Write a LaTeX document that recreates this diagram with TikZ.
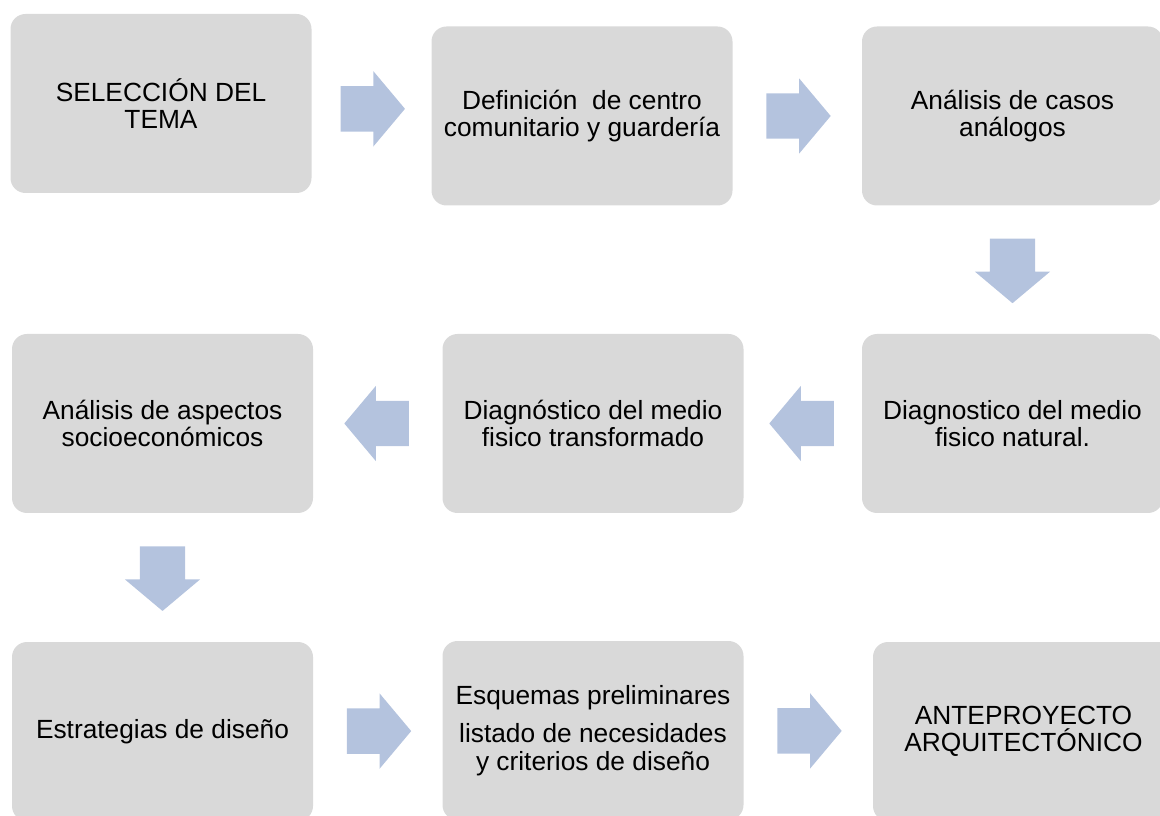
\documentclass[tikz,border=0pt]{standalone}
\usepackage{fontspec}
\setmainfont{Liberation Sans}
\usetikzlibrary{shapes.arrows,calc}

\definecolor{boxgray}{RGB}{217,217,217}
\definecolor{arrowblue}{RGB}{180,195,222}

\begin{document}
\begin{tikzpicture}[x=1pt, y=1pt,
    stepbox/.style={fill=boxgray, rounded corners=15pt, minimum width=301pt, minimum height=179pt,
                    align=center, inner sep=0pt, font=\fontsize{26.3}{27.5}\selectfont},
    blockarrow/.style={single arrow, fill=arrowblue, inner sep=22.5pt, outer sep=0pt,
                       single arrow head extend=15pt, single arrow tip angle=100,
                       minimum height=61pt, minimum width=0pt, anchor=tail}]
      \useasboundingbox (0,0) rectangle (1160,815);
      %%% first row
      \node[stepbox] (s1) at (161,711.5)   {SELECCIÓN DEL\\TEMA};
      \node[stepbox] (s2) at (582,699)     {Definición\ \ de centro\\comunitario y guardería};
      \node[stepbox] (s3) at (1012.5,699)  {Análisis de casos\\análogos};
      %%% second row
      \node[stepbox] (s4) at (162.5,391.5) {Análisis de aspectos\\socioeconómicos};
      \node[stepbox] (s5) at (593,391.5)   {Diagnóstico del medio\\fisico transformado};
      \node[stepbox] (s6) at (1012.5,391.5){Diagnostico del medio\\fisico natural.};
      %%% third row
      \node[stepbox] (s7) at (162.5,83.5)  {Estrategias de diseño};
      \node[stepbox] (s8) at (593,84.5)    {Esquemas preliminares\\[11pt]listado de necesidades\\y criterios de diseño};
      \node[stepbox] (s9) at (1023.5,83.5) {ANTEPROYECTO\\ARQUITECTÓNICO};
      %%% block arrows between the steps (tail half a length before the gap's middle)
      \foreach \a/\b/\r [count=\i] in {s1/s2/0, s2/s3/0, s3/s6/-90, s6/s5/180,
                                        s5/s4/180, s4/s7/-90, s7/s8/0, s8/s9/0}{
        \node[blockarrow, rotate=\r] (arrow\i) at ($($(\a)!.5!(\b)$)!31pt!(\a)$) {};
      }
    \end{tikzpicture}
\end{document}
